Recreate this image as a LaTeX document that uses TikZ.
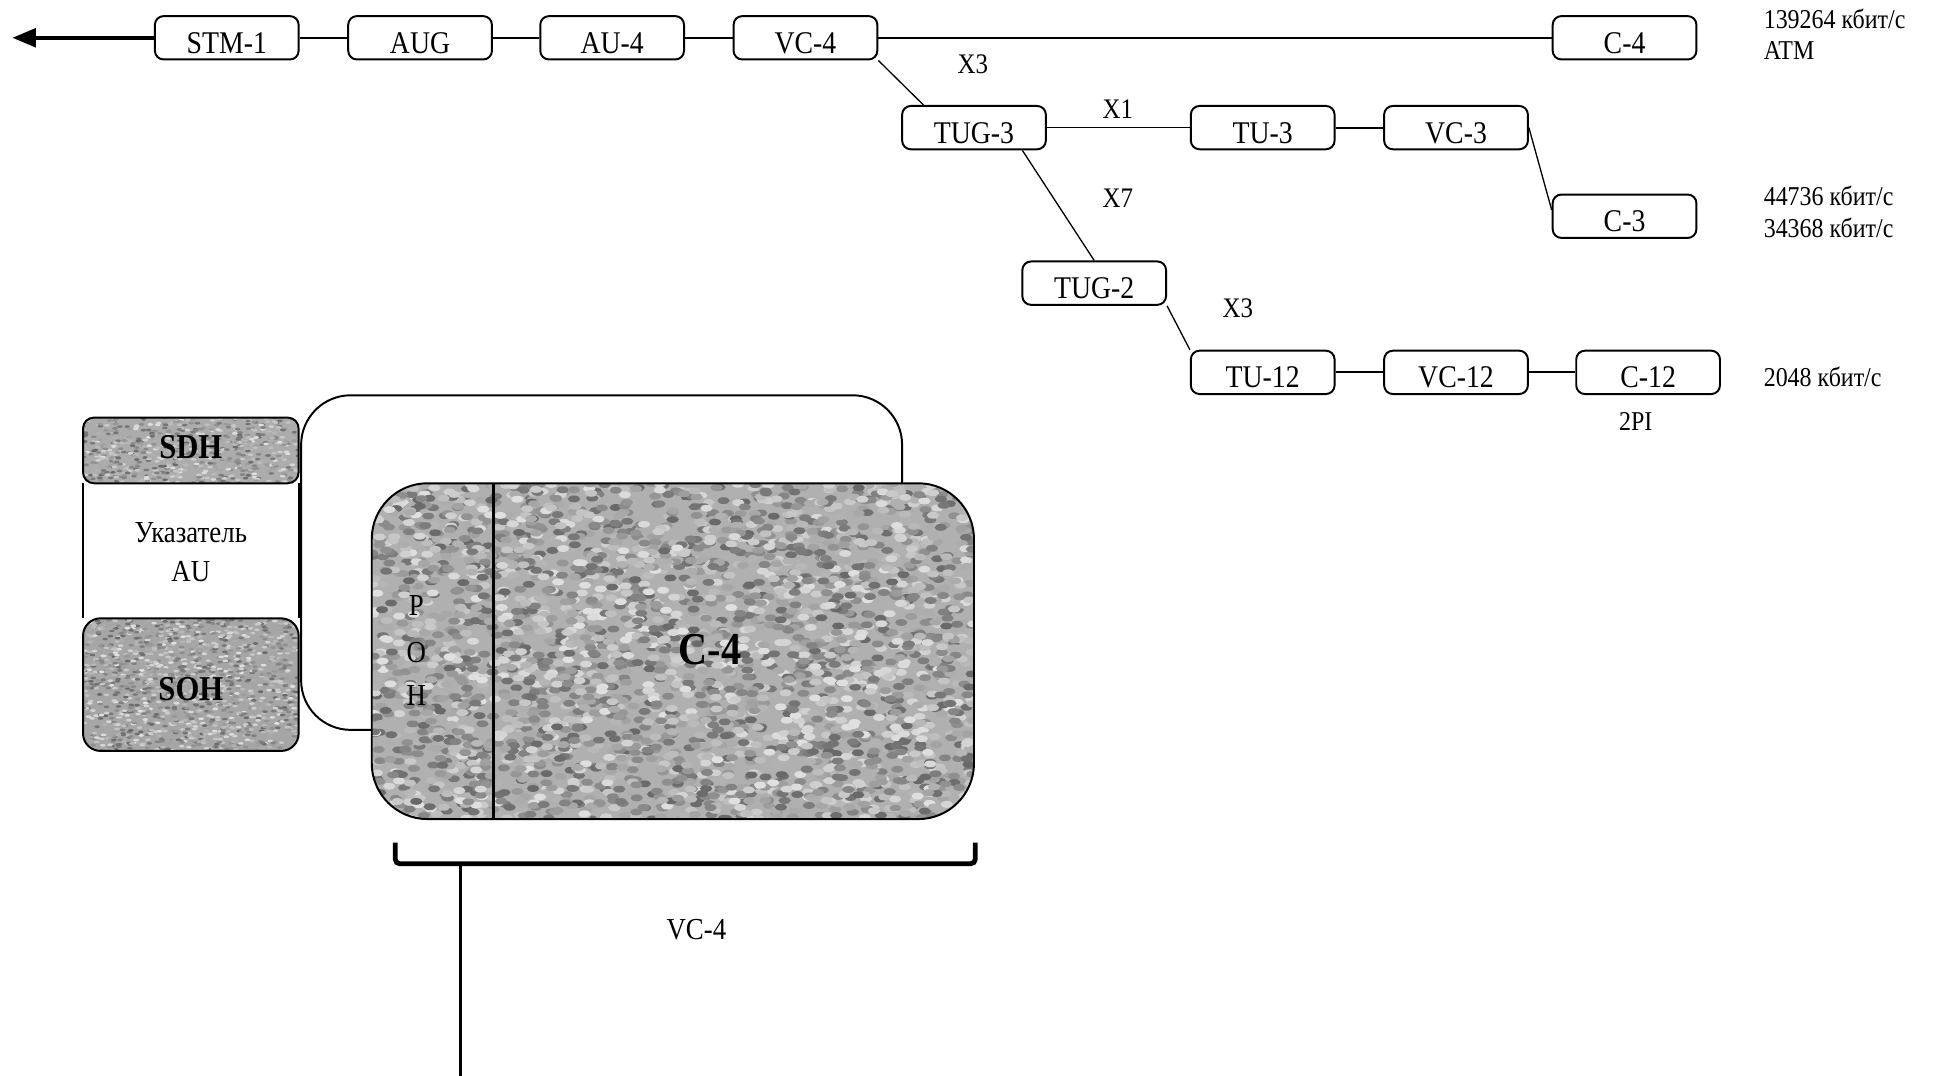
\documentclass[tikz,border=0pt]{standalone}
\usepackage{fontspec}
\setmainfont[FakeStretch=0.88]{Liberation Serif}
\usetikzlibrary{arrows.meta}

\tikzset{
  blok/.style={draw, rounded corners=4pt, line width=0.9pt, minimum width=2.32cm,
    minimum height=0.7cm, inner sep=0pt, text height=0.5cm, text depth=0pt,
    font=\fontsize{14.5}{17}\selectfont},
  link/.style={line width=0.9pt},
  thinlink/.style={line width=0.6pt},
  rate/.style={anchor=west, inner sep=0pt, font=\fontsize{12.5}{15}\selectfont},
  mult/.style={inner sep=0pt, font=\fontsize{13}{15}\selectfont},
  plain/.style={inner sep=0pt, font=\fontsize{14}{16}\selectfont},
  tag/.style={inner sep=0pt, font=\fontsize{16}{18}\selectfont\bfseries},
}

% random grain: x0, y0, width, height, count, x radius, y radius
\newcommand{\grain}[7]{%
  \foreach \k in {1,...,#5}{
    \pgfmathsetmacro{\gx}{#1+#3*rnd}
    \pgfmathsetmacro{\gy}{#2-#4*rnd}
    \pgfmathtruncatemacro{\gk}{12+48*rnd}
    \fill[black!\gk!white] (\gx,\gy) ellipse [x radius=#6, y radius=#7];
  }}

\begin{document}
\begin{tikzpicture}
    \useasboundingbox (0,0) rectangle (31.36,-17.36);
    \pgfmathsetseed{7}

    % upper chain
    \node[blok] (STM1) at (3.66,-0.61) {STM-1};
    \node[blok] (AUG)  at (6.78,-0.61) {AUG};
    \node[blok] (AU4)  at (9.88,-0.61) {AU-4};
    \node[blok] (VC4)  at (13.0,-0.61) {VC-4};
    \node[blok] (C4)   at (26.22,-0.61) {C-4};
    \node[blok] (TUG3) at (15.72,-2.06) {TUG-3};
    \node[blok] (TU3)  at (20.38,-2.06) {TU-3};
    \node[blok] (VC3)  at (23.5,-2.06) {VC-3};
    \node[blok] (C3)   at (26.22,-3.49) {C-3};
    \node[blok] (TUG2) at (17.66,-4.57) {TUG-2};
    \node[blok] (TU12) at (20.38,-6.01) {TU-12};
    \node[blok] (VC12) at (23.5,-6.01) {VC-12};
    \node[blok] (C12)  at (26.6,-6.01) {C-12};
    \coordinate (tip) at (0.2,-0.61);

    \draw[line width=1.7pt, -{Triangle[length=0.38cm, width=0.3cm]}] (STM1.west) -- (tip);
    \draw[link] (STM1) -- (AUG);
    \draw[link] (AUG) -- (AU4);
    \draw[link] (AU4) -- (VC4);
    \draw[link] (VC4) -- (C4);
    \draw[thinlink] (VC4.south east) -- ([xshift=0.36cm]TUG3.north west);
    \draw[thinlink] (TUG3) -- (TU3);
    \draw[link] (TU3) -- (VC3);
    \draw[thinlink] (VC3.east) -- ([yshift=0.1cm]C3.west);
    \draw[thinlink] ([xshift=0.78cm]TUG3.south) -- (TUG2.north);
    \draw[thinlink] (TUG2.south east) -- (TU12.north west);
    \draw[link] (TU12) -- (VC12);
    \draw[link] (VC12) -- (C12);

    \node[mult] (m1) at (15.7,-1.04) {X3};
    \node[mult] (m2) at (18.04,-1.76) {X1};
    \node[mult] (m3) at (18.04,-3.2) {X7};
    \node[mult] (m4) at (19.98,-4.98) {X3};

    \node[rate] (r1) at (28.46,-0.3) {139264 кбит/с};
    \node[rate] (r2) at (28.46,-0.82) {ATM};
    \node[rate] (r3) at (28.46,-3.16) {44736 кбит/с};
    \node[rate] (r4) at (28.46,-3.68) {34368 кбит/с};
    \node[rate] (r5) at (28.46,-6.08) {2048 кбит/с};
    \node[rate, anchor=center] (r6) at (26.4,-6.8) {2PI};

    % AU pointer block
    \begin{scope}
        \clip[rounded corners=5pt] (1.34,-6.74) rectangle (4.82,-7.8);
        \fill[gray!65] (1.34,-6.74) rectangle (4.82,-7.8);
        \grain{1.34}{-6.74}{3.48}{1.06}{700}{0.045}{0.022}
    \end{scope}
    \begin{scope}
        \clip[rounded corners=8pt] (1.34,-9.98) rectangle (4.82,-12.12);
        \fill[gray!70] (1.34,-9.98) rectangle (4.82,-12.12);
        \grain{1.34}{-9.98}{3.48}{2.14}{1400}{0.045}{0.022}
    \end{scope}
    \draw[line width=0.9pt, rounded corners=5pt] (1.34,-7.8) -- (1.34,-6.74) -- (4.82,-6.74) -- (4.82,-7.8) -- cycle;
    \draw[line width=0.9pt] (1.34,-7.8) -- (1.34,-9.98) (4.82,-7.8) -- (4.82,-9.98);
    \draw[line width=0.9pt, rounded corners=8pt] (1.34,-9.98) rectangle (4.82,-12.12);
    \node[tag] (sdh) at (3.08,-7.22) {SDH};
    \node[tag] (soh) at (3.08,-11.12) {SOH};
    \node[plain] (ptr) at (3.08,-8.6) {Указатель};
    \node[plain] (au) at (3.08,-9.22) {AU};

    % loop behind the frame
    \draw[line width=0.9pt, rounded corners=0.8cm] (4.86,-6.38) rectangle (14.56,-11.78);

    % VC-4 frame
    \begin{scope}
        \clip[rounded corners=0.9cm] (6.0,-7.8) rectangle (15.72,-13.22);
        \fill[gray!62] (6.0,-7.8) rectangle (15.72,-13.22);
        \grain{6.0}{-7.8}{9.72}{5.42}{3200}{0.1}{0.055}
    \end{scope}
    \draw[line width=0.9pt, rounded corners=0.9cm] (6.0,-7.8) rectangle (15.72,-13.22);
    \draw[line width=1.3pt] (7.96,-7.8) -- (7.96,-13.22);
    \node[plain] (p) at (6.72,-9.78) {P};
    \node[plain] (o) at (6.72,-10.54) {O};
    \node[plain] (h) at (6.72,-11.22) {H};
    \node[plain, font=\fontsize{21}{24}\selectfont\bfseries] (c4big) at (11.46,-10.48) {C-4};

    % brace
    \draw[line width=2.2pt, rounded corners=2pt] (6.38,-13.6) -- (6.38,-13.94) -- (15.74,-13.94) -- (15.74,-13.6);
    \draw[line width=1.4pt] (7.44,-13.94) -- (7.44,-17.36);
    \node[plain] (vc4lbl) at (11.24,-15.0) {VC-4};
\end{tikzpicture}
\end{document}
